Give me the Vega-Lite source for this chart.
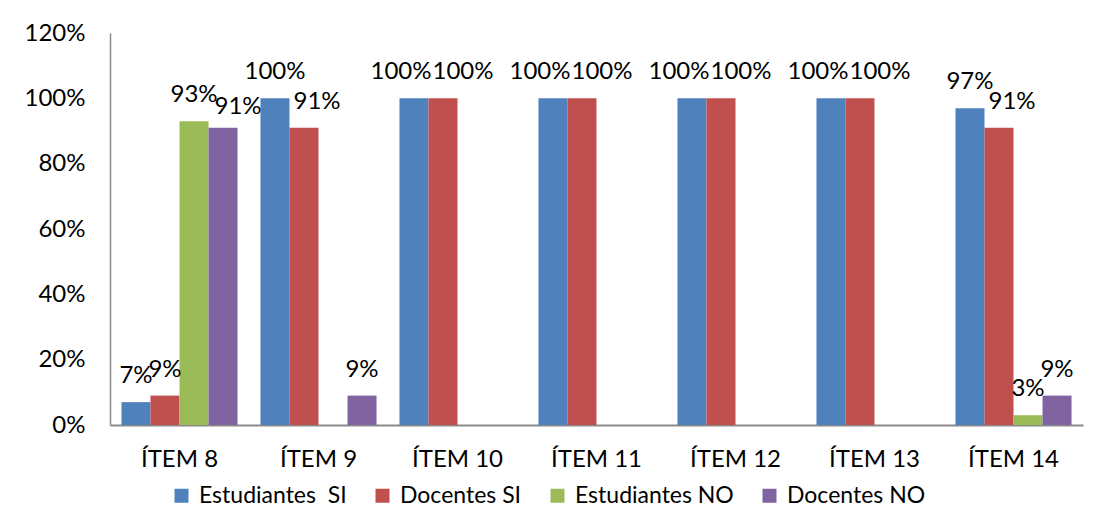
{
  "$schema": "https://vega.github.io/schema/vega-lite/v6.json",
  "autosize": {"type": "none"},
  "width": 973,
  "height": 392,
  "padding": {"left": 110, "top": 33, "right": 14, "bottom": 104},
  "background": "white",
  "config": {
    "view": {"stroke": null},
    "font": "Lato",
    "axis": {"labelFont": "Lato", "labelFontSize": 24, "labelColor": "#000000", "grid": false, "ticks": false, "title": null, "domainColor": "#8a8a8a"},
    "legend": {"labelFont": "Lato", "labelFontSize": 23, "labelColor": "#000000", "labelLimit": 400}
  },
  "data": {
    "values": [
      {"item": "ÍTEM 8", "serie": "Estudiantes  SI", "valor": 0.07},
      {"item": "ÍTEM 8", "serie": "Docentes SI", "valor": 0.09},
      {"item": "ÍTEM 8", "serie": "Estudiantes NO", "valor": 0.93},
      {"item": "ÍTEM 8", "serie": "Docentes NO", "valor": 0.91},
      {"item": "ÍTEM 9", "serie": "Estudiantes  SI", "valor": 1.0},
      {"item": "ÍTEM 9", "serie": "Docentes SI", "valor": 0.91},
      {"item": "ÍTEM 9", "serie": "Estudiantes NO", "valor": 0},
      {"item": "ÍTEM 9", "serie": "Docentes NO", "valor": 0.09},
      {"item": "ÍTEM 10", "serie": "Estudiantes  SI", "valor": 1.0},
      {"item": "ÍTEM 10", "serie": "Docentes SI", "valor": 1.0},
      {"item": "ÍTEM 10", "serie": "Estudiantes NO", "valor": 0},
      {"item": "ÍTEM 10", "serie": "Docentes NO", "valor": 0},
      {"item": "ÍTEM 11", "serie": "Estudiantes  SI", "valor": 1.0},
      {"item": "ÍTEM 11", "serie": "Docentes SI", "valor": 1.0},
      {"item": "ÍTEM 11", "serie": "Estudiantes NO", "valor": 0},
      {"item": "ÍTEM 11", "serie": "Docentes NO", "valor": 0},
      {"item": "ÍTEM 12", "serie": "Estudiantes  SI", "valor": 1.0},
      {"item": "ÍTEM 12", "serie": "Docentes SI", "valor": 1.0},
      {"item": "ÍTEM 12", "serie": "Estudiantes NO", "valor": 0},
      {"item": "ÍTEM 12", "serie": "Docentes NO", "valor": 0},
      {"item": "ÍTEM 13", "serie": "Estudiantes  SI", "valor": 1.0},
      {"item": "ÍTEM 13", "serie": "Docentes SI", "valor": 1.0},
      {"item": "ÍTEM 13", "serie": "Estudiantes NO", "valor": 0},
      {"item": "ÍTEM 13", "serie": "Docentes NO", "valor": 0},
      {"item": "ÍTEM 14", "serie": "Estudiantes  SI", "valor": 0.97},
      {"item": "ÍTEM 14", "serie": "Docentes SI", "valor": 0.91},
      {"item": "ÍTEM 14", "serie": "Estudiantes NO", "valor": 0.03},
      {"item": "ÍTEM 14", "serie": "Docentes NO", "valor": 0.09}
    ]
  },
  "encoding": {
    "x": {
      "field": "item", "type": "nominal", "sort": null,
      "scale": {"paddingInner": 0.165, "paddingOuter": 0.0825},
      "axis": {"labelAngle": 0, "labelPadding": 22, "domainWidth": 2}
    },
    "xOffset": {
      "field": "serie", "type": "nominal",
      "sort": ["Estudiantes  SI", "Docentes SI", "Estudiantes NO", "Docentes NO"],
      "scale": {"paddingInner": 0, "paddingOuter": 0}
    },
    "y": {
      "field": "valor", "type": "quantitative",
      "scale": {"domain": [0, 1.2], "nice": false},
      "axis": {"format": ".0%", "values": [0, 0.2, 0.4, 0.6, 0.8, 1.0, 1.2], "labelPadding": 25, "domainWidth": 1.5}
    }
  },
  "layer": [
    {
      "mark": {"type": "bar"},
      "encoding": {
        "color": {
          "field": "serie", "type": "nominal",
          "sort": ["Estudiantes  SI", "Docentes SI", "Estudiantes NO", "Docentes NO"],
          "scale": {
            "domain": ["Estudiantes  SI", "Docentes SI", "Estudiantes NO", "Docentes NO"],
            "range": ["#4F81BD", "#C0504D", "#9BBB59", "#8064A2"]
          },
          "legend": {
            "title": null, "orient": "none", "direction": "horizontal",
            "legendX": 60, "legendY": 451, "padding": 0,
            "symbolType": "square", "symbolSize": 196, "symbolStrokeWidth": 0,
            "labelOffset": 6, "columnPadding": 24,
            "labelExpr": "replace(datum.label, '  ', ' \u00a0')"
          }
        }
      }
    },
    {
      "transform": [{"filter": "datum.valor > 0 && !(datum.serie == 'Estudiantes  SI' && datum.valor == 1 && datum.item != 'ÍTEM 9') && !(datum.serie != 'Estudiantes  SI' && datum.serie != 'Estudiantes NO' && datum.valor >= 0.9)"}],
      "mark": {"type": "text", "font": "Lato", "fontSize": 24, "color": "#000000", "baseline": "alphabetic", "dy": -19},
      "encoding": {"text": {"field": "valor", "type": "quantitative", "format": ".0%"}}
    },
    {
      "transform": [{"filter": "datum.serie == 'Estudiantes  SI' && datum.valor == 1 && datum.item != 'ÍTEM 9'"}],
      "mark": {"type": "text", "font": "Lato", "fontSize": 24, "color": "#000000", "baseline": "alphabetic", "dy": -19, "dx": -13},
      "encoding": {"text": {"field": "valor", "type": "quantitative", "format": ".0%"}}
    },
    {
      "transform": [{"filter": "datum.serie == 'Docentes SI' && datum.valor == 1"}],
      "mark": {"type": "text", "font": "Lato", "fontSize": 24, "color": "#000000", "baseline": "alphabetic", "dy": -19, "dx": 20},
      "encoding": {"text": {"field": "valor", "type": "quantitative", "format": ".0%"}}
    },
    {
      "transform": [{"filter": "datum.serie == 'Docentes SI' && datum.valor >= 0.9 && datum.valor < 1"}],
      "mark": {"type": "text", "font": "Lato", "fontSize": 24, "color": "#000000", "baseline": "alphabetic", "dy": -19, "dx": 13},
      "encoding": {"text": {"field": "valor", "type": "quantitative", "format": ".0%"}}
    },
    {
      "transform": [{"filter": "datum.serie == 'Docentes NO' && datum.valor >= 0.9"}],
      "mark": {"type": "text", "font": "Lato", "fontSize": 24, "color": "#000000", "baseline": "alphabetic", "dy": -14, "dx": 15},
      "encoding": {"text": {"field": "valor", "type": "quantitative", "format": ".0%"}}
    }
  ]
}
